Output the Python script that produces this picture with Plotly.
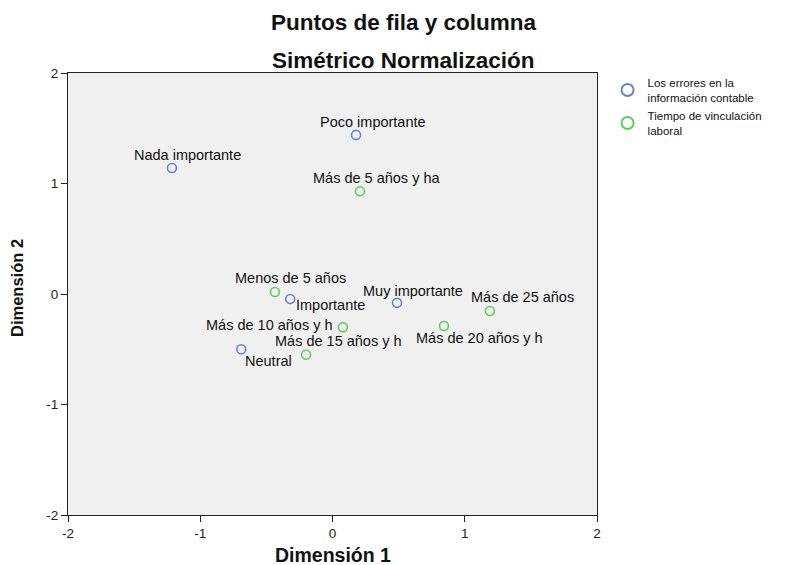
import plotly.graph_objects as go

row_names = ["Nada importante", "Poco importante", "Importante", "Muy importante", "Neutral"]
row_x = [-1.214, 0.178, -0.32, 0.488, -0.69]
row_y = [1.14, 1.44, -0.045, -0.08, -0.50]

col_names = ["Más de 5 años y ha", "Menos de 5 años", "Más de 25 años",
             "Más de 10 años y h", "Más de 20 años y h", "Más de 15 años y h"]
col_x = [0.208, -0.435, 1.19, 0.079, 0.843, -0.20]
col_y = [0.93, 0.018, -0.154, -0.30, -0.29, -0.55]

x_ticks = [-2, -1, 0, 1, 2]
y_ticks = [-2, -1, 0, 1, 2]

# label offsets (px) relative to points: (xshift, yshift)
label_off = {"Nada importante": (16, 13), "Poco importante": (17, 13),
             "Importante": (40, -6), "Muy importante": (16, 12), "Neutral": (27, -12),
             "Más de 5 años y ha": (16, 13), "Menos de 5 años": (16, 14),
             "Más de 25 años": (33, 14), "Más de 10 años y h": (-73, 2),
             "Más de 15 años y h": (32, 14), "Más de 20 años y h": (36, -12)}

blue = "#6e7fcc"
green = "#5fcc5f"
font = "Liberation Sans, Arial, sans-serif"

fig = go.Figure()
fig.add_trace(go.Scatter(x=row_x, y=row_y, mode="markers",
                         name="Los errores en la<br>información contable",
                         marker=dict(symbol="circle-open", size=9, color=blue, line=dict(width=1.6))))
fig.add_trace(go.Scatter(x=col_x, y=col_y, mode="markers",
                         name="Tiempo de vinculación<br>laboral",
                         marker=dict(symbol="circle-open", size=9, color=green, line=dict(width=1.6))))

anns = []
for names, xs, ys in [(row_names, row_x, row_y), (col_names, col_x, col_y)]:
    for n, x, y in zip(names, xs, ys):
        dx, dy = label_off[n]
        anns.append(dict(x=x, y=y, text=n, showarrow=False, xanchor="center", yanchor="middle",
                         xshift=dx, yshift=dy, font=dict(size=14.5, color="#111111", family=font)))

anns.append(dict(x=0.635, y=1.115, xref="paper", yref="paper", yanchor="middle", xanchor="center",
                 text="<b>Puntos de fila y columna</b>", showarrow=False,
                 font=dict(size=22.5, color="#111111", family=font)))
anns.append(dict(x=0.635, y=1.029, xref="paper", yref="paper", yanchor="middle", xanchor="center",
                 text="<b>Simétrico Normalización</b>", showarrow=False,
                 font=dict(size=22.5, color="#111111", family=font)))
anns.append(dict(x=0.5, y=-0.0905, xref="paper", yref="paper", yanchor="middle", xanchor="center",
                 text="<b>Dimensión 1</b>", showarrow=False,
                 font=dict(size=19.5, color="#111111", family=font)))
anns.append(dict(x=-0.0964, y=0.5136, xref="paper", yref="paper", yanchor="middle", xanchor="center",
                 text="<b>Dimensión 2</b>", showarrow=False, textangle=-90,
                 font=dict(size=16.5, color="#111111", family=font)))

fig.update_layout(
    width=790, height=565,
    margin=dict(l=60, r=201, t=65, b=58, autoexpand=False),
    paper_bgcolor="white", plot_bgcolor="#f0f0f0",
    font=dict(family=font, color="#222222"),
    annotations=anns,
    showlegend=True,
    legend=dict(x=1.02, y=1.01, xanchor="left", yanchor="top", font=dict(size=11.5, color="#111111"),
                bgcolor="rgba(0,0,0,0)", itemsizing="constant", tracegroupgap=0),
)
fig.update_xaxes(range=[-2, 2], tickvals=x_ticks, ticktext=[str(v) for v in x_ticks],
                 showgrid=False, zeroline=False, showline=True, linecolor="#222222", linewidth=1,
                 mirror=True, ticks="outside", ticklen=6, tickcolor="#222222", automargin=False,
                 tickfont=dict(size=13.5, color="#222222"))
fig.update_yaxes(range=[-2, 2], tickvals=y_ticks, ticktext=[str(v) for v in y_ticks],
                 showgrid=False, zeroline=False, showline=True, linecolor="#222222", linewidth=1,
                 mirror=True, ticks="outside", ticklen=6, tickcolor="#222222", automargin=False,
                 tickfont=dict(size=13.5, color="#222222"))

fig.write_html("out.html")
